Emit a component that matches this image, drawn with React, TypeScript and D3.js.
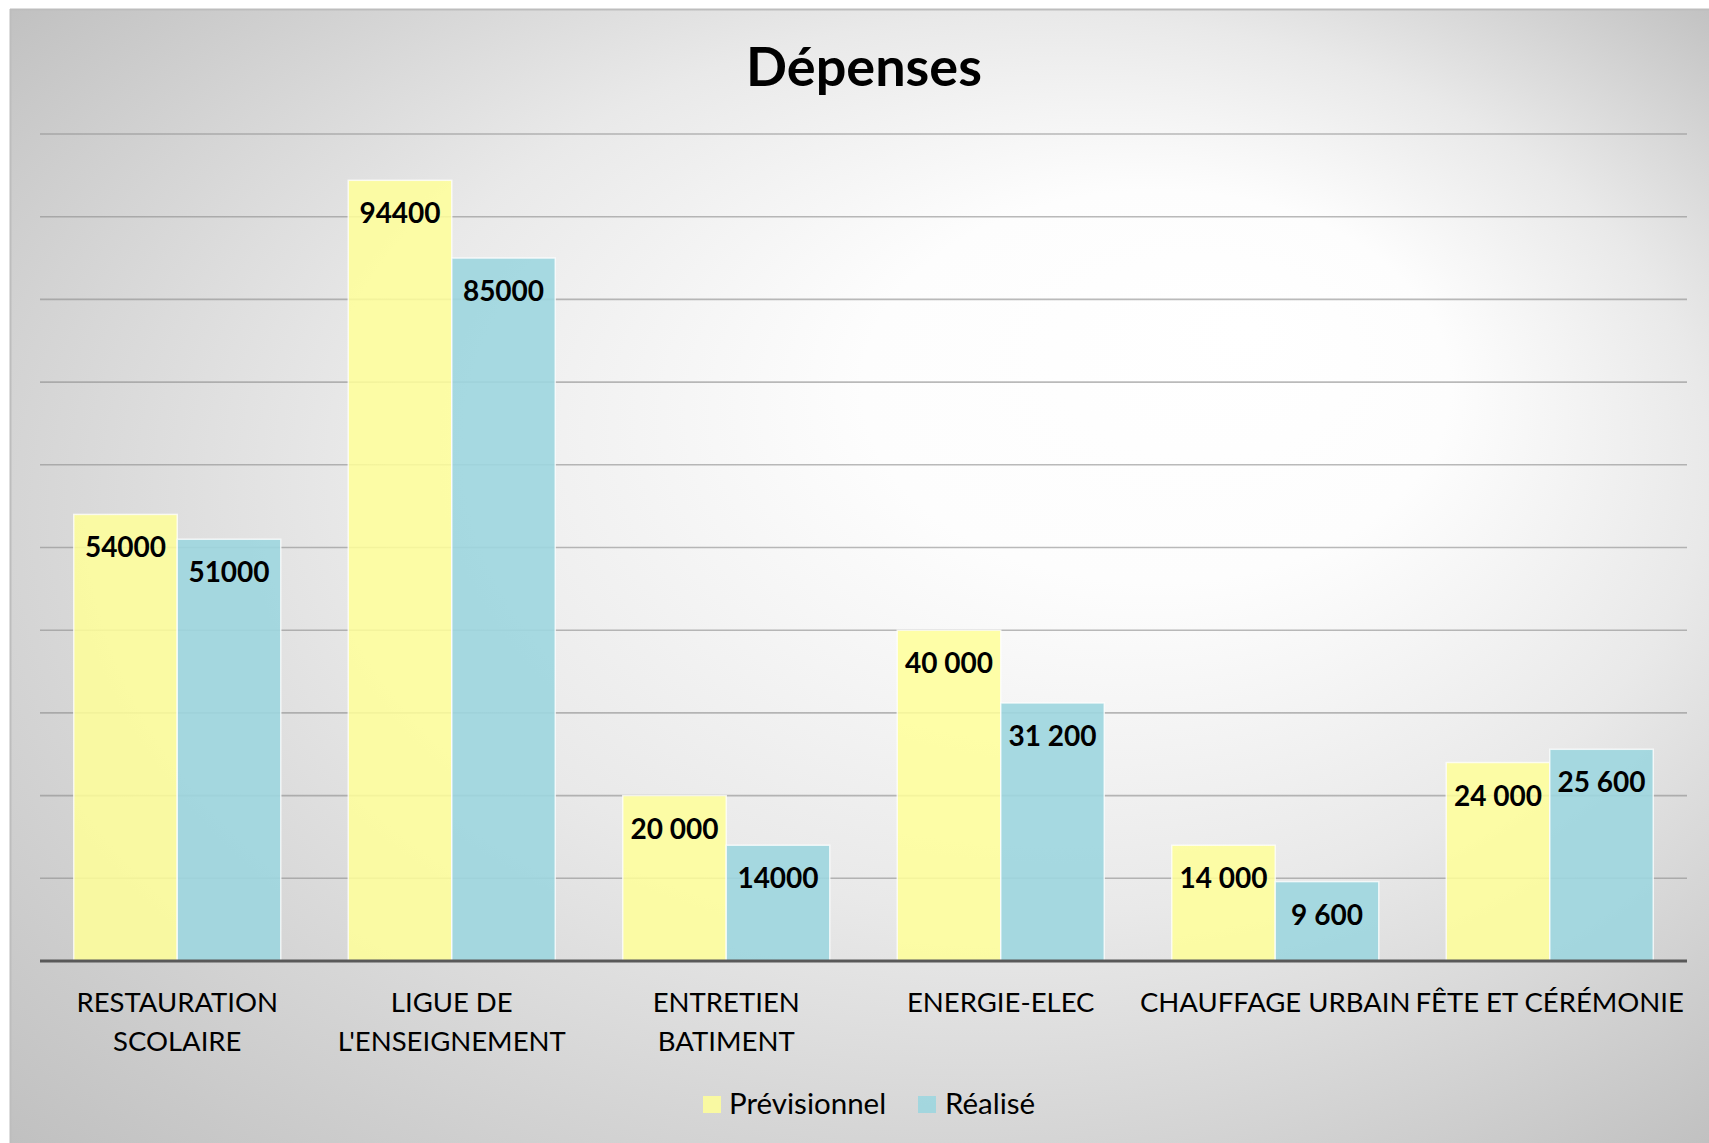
import React from "react";
import * as d3 from "d3";

const title = "Dépenses";
const categories = [
  "RESTAURATION SCOLAIRE",
  "LIGUE DE L'ENSEIGNEMENT",
  "ENTRETIEN BATIMENT",
  "ENERGIE-ELEC",
  "CHAUFFAGE URBAIN",
  "FÊTE ET CÉRÉMONIE",
];
const categoryLines = [
  ["RESTAURATION", "SCOLAIRE"],
  ["LIGUE DE", "L'ENSEIGNEMENT"],
  ["ENTRETIEN", "BATIMENT"],
  ["ENERGIE-ELEC"],
  ["CHAUFFAGE URBAIN"],
  ["FÊTE ET CÉRÉMONIE"],
];
const seriesNames = ["Prévisionnel", "Réalisé"];
const previsionnel = [54000, 94400, 20000, 40000, 14000, 24000];
const realise = [51000, 85000, 14000, 31200, 9600, 25600];
const previsionnelLabels = ["54000", "94400", "20 000", "40 000", "14 000", "24 000"];
const realiseLabels = ["51000", "85000", "14000", "31 200", "9 600", "25 600"];
const yTicks = [10000, 20000, 30000, 40000, 50000, 60000, 70000, 80000, 90000, 100000];

const W = 1709;
const H = 1143;
const plot = { left: 40, right: 1687, top: 134, bottom: 961 };
const colors = ["#FFFF99", "#9DD6DF"];
const opac = [0.85, 0.9];
const font = "Lato, 'Open Sans', sans-serif";

export default function App() {
  const x = d3.scaleBand<string>().domain(categories).range([plot.left, plot.right]).paddingInner(0).paddingOuter(0);
  const xs = d3.scaleBand<string>().domain(seriesNames).range([0, x.bandwidth()]).paddingInner(0).paddingOuter(0.326);
  const y = d3.scaleLinear().domain([0, 100000]).range([plot.bottom, plot.top]);
  const values = [previsionnel, realise];
  const labels = [previsionnelLabels, realiseLabels];

  return (
    <div style={{ position: "absolute", left: 0, top: 0 }}>
      <svg width={W} height={H} style={{ display: "block" }}>
        <defs>
          <radialGradient id="bg" cx="0.5" cy="0.5" r="0.72" fx="0.73" fy="0.28">
            <stop offset="0" stopColor="#ffffff" />
            <stop offset="0.24" stopColor="#fdfdfd" />
            <stop offset="0.55" stopColor="#e9e9e9" />
            <stop offset="1" stopColor="#bfbfbf" />
          </radialGradient>
        </defs>
        <rect x={0} y={0} width={W} height={H} fill="#ffffff" />
        <rect x={10} y={9} width={W - 10} height={H - 9} fill="url(#bg)" />
        <line x1={10} x2={W} y1={9.5} y2={9.5} stroke="#bdbdbd" strokeWidth={2} />
        <line x1={10.5} x2={10.5} y1={9} y2={H} stroke="#bdbdbd" strokeWidth={2} />

        <text x={864} y={86} textAnchor="middle" fontFamily={font} fontWeight={700} fontSize={54} fill="#000">
          {title}
        </text>

        {yTicks.map((t) => (
          <line key={t} x1={plot.left} x2={plot.right} y1={y(t)} y2={y(t)} stroke="#8c8c8c" strokeOpacity={0.6} strokeWidth={1.6} />
        ))}

        {categories.map((c, i) => (
          <g key={c}>
            {seriesNames.map((s, j) => {
              const bx = (x(c) as number) + (xs(s) as number);
              const by = y(values[j][i]);
              return (
                <g key={s}>
                  <rect
                    x={bx}
                    y={by}
                    width={xs.bandwidth()}
                    height={y(0) - by}
                    fill={colors[j]}
                    fillOpacity={opac[j]}
                    stroke="#ffffff"
                    strokeOpacity={0.75}
                    strokeWidth={1.5}
                  />
                  <text
                    x={bx + xs.bandwidth() / 2}
                    y={by + 43}
                    textAnchor="middle"
                    fontFamily={font}
                    fontWeight={700}
                    fontSize={28}
                    fill="#000"
                  >
                    {labels[j][i]}
                  </text>
                </g>
              );
            })}
            {categoryLines[i].map((ln, k) => (
              <text
                key={k}
                x={(x(c) as number) + x.bandwidth() / 2}
                y={1012 + k * 39}
                textAnchor="middle"
                fontFamily={font}
                fontSize={27.5}
                fill="#000"
              >
                {ln}
              </text>
            ))}
          </g>
        ))}

        <line x1={plot.left} x2={plot.right} y1={plot.bottom} y2={plot.bottom} stroke="#595959" strokeWidth={3} />

        <g>
          <rect x={703} y={1096} width={18} height={17} fill={colors[0]} fillOpacity={opac[0]} />
          <text x={729} y={1114} fontFamily={font} fontSize={29.5} fill="#000">{seriesNames[0]}</text>
          <rect x={918} y={1096} width={18} height={17} fill={colors[1]} fillOpacity={opac[1]} />
          <text x={945} y={1114} fontFamily={font} fontSize={29.5} fill="#000">{seriesNames[1]}</text>
        </g>
      </svg>
    </div>
  );
}
